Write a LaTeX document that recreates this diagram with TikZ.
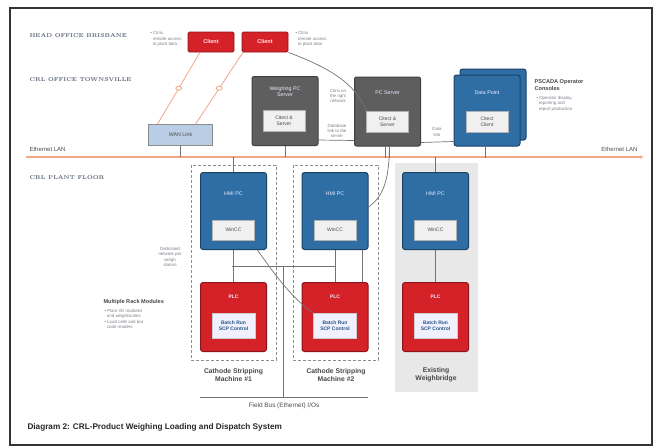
\documentclass[tikz,border=0pt]{standalone}
\usepackage{fontspec}
\setsansfont{Liberation Sans}
\usepackage{xcolor}
\usepackage{tikz}
\usetikzlibrary{arrows.meta,positioning,shapes.geometric,calc}
\definecolor{crlred}{HTML}{D52229}
\definecolor{crlblue}{HTML}{2F6EA5}
\definecolor{crlgrey}{HTML}{5E5E5E}
\definecolor{wanblue}{HTML}{B9CDE5}
\definecolor{lanline}{HTML}{F2A585}
\definecolor{headtext}{HTML}{5A6478}
\definecolor{notetext}{HTML}{7A7F88}

\begin{document}
\begin{tikzpicture}[x=1pt, y=-1pt,
  redbox/.style={draw=crlred!65!black, fill=crlred, rounded corners=2.5pt, line width=1pt,
    minimum width=66pt, minimum height=69pt},
  bluebox/.style={draw=crlblue!60!black, fill=crlblue, rounded corners=2.5pt, line width=1pt,
    minimum width=66pt, minimum height=77pt},
  greybox/.style={draw=black!75, fill=crlgrey, rounded corners=2pt, line width=1pt,
    minimum width=66pt, minimum height=69pt},
  headbox/.style={draw=crlred!65!black, fill=crlred, rounded corners=1.5pt, line width=0.8pt,
    minimum width=46pt, minimum height=20pt, text=white!90!red, font=\sffamily\bfseries\fontsize{5.5}{6.5}\selectfont},
  inbox/.style={draw=black!30, fill=black!6, minimum width=42pt, minimum height=21pt, inner sep=1pt,
    align=center, font=\sffamily\fontsize{5}{5.8}\selectfont, text=black!70},
  plcin/.style={draw=black!20, fill=blue!6, minimum width=43pt, minimum height=25pt, inner sep=1pt,
    align=center, font=\sffamily\bfseries\fontsize{5}{5.8}\selectfont, text=crlblue!80!black},
  boxtitle/.style={text=white!92!blue, align=center, font=\sffamily\fontsize{5.3}{6.2}\selectfont},
  zone/.style={anchor=west, text=headtext, font=\rmfamily\bfseries\fontsize{5.6}{6.6}\selectfont},
  note/.style={align=left, text=notetext, font=\sffamily\fontsize{4.4}{5.2}\selectfont},
  notehead/.style={note, text=black!72, font=\sffamily\bfseries\fontsize{5.6}{6.6}\selectfont},
  caplabel/.style={align=center, text=black!72, font=\sffamily\bfseries\fontsize{6.8}{7.8}\selectfont},
  lan/.style={draw=lanline, line width=1.3pt},
  tap/.style={draw=black!55, line width=0.6pt},
  wire/.style={draw=black!55, line width=0.7pt},
  radio/.style={draw=lanline, line width=0.8pt}
]
\useasboundingbox (0,0) rectangle (656,447);
\draw[black!80, line width=2pt] (10,8) rectangle (652,445);

% zones
\node[zone] (zhead) at (26,36) {HEAD OFFICE BRISBANE};
\node[zone] (zoffice) at (26,80) {CRL OFFICE TOWNSVILLE};
\node[zone] (zplant) at (26,178) {CRL PLANT FLOOR};

% plant groups
\fill[black!9] (395,163) rectangle (478,392);
\draw[black!45, densely dashed, line width=0.5pt] (191,165) rectangle (276,360);
\draw[black!45, densely dashed, line width=0.5pt] (293,165) rectangle (378,360);

% head office
\node[headbox] (citA) at (211,42) {Client};
\node[headbox] (citB) at (265,42) {Client};
\node[note, anchor=east] (nCitA) at (185,39) {\textbullet\ Citrix\\\ \ remote access\\\ \ to plant data};
\node[note, anchor=west] (nCitB) at (292,39) {\textbullet\ Citrix\\\ \ remote access\\\ \ to plant data};

% office
\node[draw=black!45, fill=wanblue, line width=0.8pt, minimum width=64pt, minimum height=21pt,
  font=\sffamily\fontsize{5.3}{6.2}\selectfont, text=black!70] (wan) at (180.5,135) {WAN Link};

\node[greybox] (wserv) at (285,111) {};
\node[boxtitle] at (285,92) {Weighing PC\\Server};
\node[inbox] (wservIn) at (284,121) {Citect \&\\Server};

\node[greybox] (pcserv) at (387.5,111.5) {};
\node[boxtitle] at (387.5,93) {PC Server};
\node[inbox] (pcservIn) at (387.5,121.5) {Citect \&\\Server};

\node[bluebox, minimum height=71pt] (dpBack) at (493,104.5) {};
\node[bluebox, minimum height=71pt] (dp) at (487,110.5) {};
\node[boxtitle] at (487,93) {Data Point};
\node[inbox] (dpIn) at (487,122) {Citect\\Client};
\node[notehead, anchor=north west] (nOps) at (531,76) {PSCADA Operator\\Consoles};
\node[note, anchor=north west] (nOpsB) at (533,93) {\textbullet\ Operator display,\\\ \ reporting and\\\ \ report production};

\node[note, anchor=center, align=center] (nCitrix) at (338,96) {Citrix on\\the right\\network};
\node[note, anchor=center, align=center] (nDb) at (337,131) {Database\\link to the\\server};
\node[note, anchor=center, align=center] (nData) at (437,132) {Data\\link};

% LAN
\draw[lan, {Latex[length=3pt,width=3pt]}-{Latex[length=4pt,width=3.5pt]}] (25,157) coordinate (lanL) -- (644,157) coordinate (lanR);
\node[note, anchor=south west, text=black!70, font=\sffamily\fontsize{6}{7}\selectfont] (nLanL) at (26,155.5) {Ethernet LAN};
\node[note, anchor=south east, text=black!70, font=\sffamily\fontsize{6}{7}\selectfont] (nLanR) at (641,155.5) {Ethernet LAN};

% plant floor
\foreach \n/\x in {1/233.5, 2/335, 3/435.5} {
  \node[bluebox] (hmi\n) at (\x,211) {};
  \node[boxtitle] at (\x,194) {HMI PC};
  \node[inbox, minimum height=20pt] (hmiIn\n) at (\x,230) {WinCC};
  \node[redbox] (plc\n) at (\x,317) {};
  \node[boxtitle, font=\sffamily\bfseries\fontsize{5}{6}\selectfont] at (\x,297) {PLC};
  \node[plcin] (plcIn\n) at (\x,326) {Batch Run\\SCP Control};
}
\node[caplabel] (m1) at (233.5,375) {Cathode Stripping\\Machine \#1};
\node[caplabel] (m2) at (336,375) {Cathode Stripping\\Machine \#2};
\node[caplabel] (m3) at (436,375) {Existing\\Weighbridge};

\node[note, anchor=center, align=center] (nNet) at (170,257) {Dedicated\\network per\\weigh\\station};
\node[notehead, anchor=north west] (nRack) at (100,296) {Multiple Rack Modules};
\node[note, anchor=north west] (nRackB) at (101,306) {\textbullet\ Plant I/O modules\\\ \ and weightscales\\\textbullet\ Load cells and bar\\\ \ code readers};

% links
\draw[radio] ($(citA.south)+(-11,0)$) -- node[ellipse, draw=lanline, fill=white, inner sep=0pt, minimum width=6pt, minimum height=4pt] (lA) {} ($(wan.north)+(-23,0)$);
\draw[radio] ($(citB.south)+(-22,0)$) -- node[ellipse, draw=lanline, fill=white, inner sep=0pt, minimum width=6pt, minimum height=4pt] (lB) {} ($(wan.north)+(15,0)$);
\draw[wire] (citB.south east) .. controls (330,68) and (356,84) .. (pcservIn.north west);

\draw[tap] (wan.south) -- (wan.south |- lanL);
\draw[tap] (wserv.south) -- (wserv.south |- lanL);
\draw[tap] ($(pcserv.south)+(-2,0)$) -- ++(0,11);
\draw[tap] ($(pcserv.south)+(2,0)$) -- ++(0,11);
\draw[tap] ($(dp.south)+(-2,0)$) -- ++(0,11);
\draw[wire] ($(wserv.east)+(0,29)$) -- ($(pcserv.west)+(0,29)$);
\draw[wire] ($(pcserv.east)+(0,31)$) -- ($(dp.west)+(0,31)$);

\draw[tap] (hmi1.north |- lanL) -- (hmi1.north);
\draw[tap] (hmi3.north |- lanL) -- (hmi3.north);
\draw[wire] ($(pcserv.south)+(2,0)$) .. controls (389,185) and (381,198) .. ($(hmi2.east)+(0,-4)$);

\draw[wire] (hmi1.south) -- (plc1.north);
\draw[wire] (hmi2.south) -- (plc2.north);
\draw[wire] (hmi3.south) -- (plc3.north);
\draw[wire] ($(hmi2.south)+(27,0)$) -- ($(plc2.north)+(27,0)$);
\draw[wire] ($(hmi1.south)+(24,0)$) .. controls (275,275) and (292,298) .. (plcIn2.north west);
\draw[wire] (232,266) coordinate (busL) -- (335,266) coordinate (busR);
\draw[wire] (283,266) coordinate (busM) -- (283,397) coordinate (busB);
\draw[wire] (200,397) coordinate (fbL) -- (368,397) coordinate (fbR);
\node[note, anchor=north, align=center, text=black!70, font=\sffamily\fontsize{6.4}{7.4}\selectfont] (nFb) at (284,399) {Field Bus (Ethernet) I/Os};

\node[anchor=west, text=black!85, font=\sffamily\bfseries\fontsize{8.2}{9.5}\selectfont] (title) at (24,427) {Diagram 2: CRL-Product Weighing Loading and Dispatch System};
\end{tikzpicture}
\end{document}
